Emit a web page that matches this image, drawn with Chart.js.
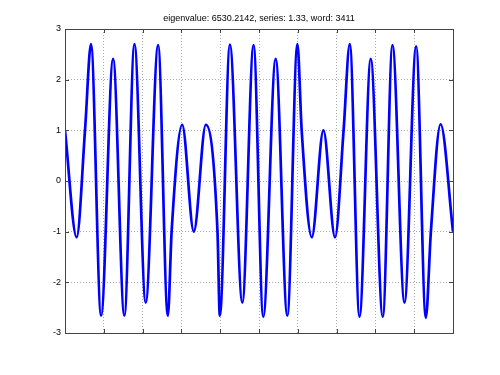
<!DOCTYPE html>
<html>
<head>
<meta charset="utf-8">
<script src="https://cdn.jsdelivr.net/npm/chart.js@4/dist/chart.umd.min.js"></script>
<style>
    body { margin: 0; background: #fff; }
</style>
</head>
<body>
<canvas id="chart" width="500" height="375"></canvas>
<script>
// values (x runs 0..100, grid every 10)
var sampleX = [0, 3.0, 5.2, 6.7, 9.3, 12.4, 15.3, 17.9, 20.8, 24.0, 26.5, 27.5, 30.2, 33.2, 36.3, 39.3, 39.9,
    42.5, 45.7, 48.6, 51.1, 54.3, 57.3, 59.9, 61.0, 63.6, 66.6, 69.6, 71.8, 73.4, 75.9, 78.8, 81.9,
    84.4, 87.5, 90.5, 93.0, 94.3, 96.8, 100];
var sampleY = [1.00, -1.11, 1.05, 2.70, -2.66, 2.41, -2.66, 2.70, -2.40, 2.68, -2.66, -0.97, 1.11, -1.00, 1.11, -1.00, -2.66,
    2.69, -2.40, 2.68, -2.68, 2.41, -2.66, 2.70, 1.00, -1.11, 1.00, -1.11, 1.00, 2.70, -2.68, 2.41, -2.68,
    2.68, -2.40, 2.66, -2.70, -1.00, 1.12, -1.00];
var yTicks = [-3, -2, -1, 0, 1, 2, 3];
var xTicks = [0, 10, 20, 30, 40, 50, 60, 70, 80, 90, 100];
var titleText = 'eigenvalue: 6530.2142, series: 1.33, word: 3411';

var points = [];
for (var i = 0; i < sampleX.length; i++) {
    points.push({x: sampleX[i], y: sampleY[i]});
}

// box round the axes, small inward ticks and the title over the plot
var boxPlugin = {
    id: 'box',
    afterDraw: function (chart) {
        var ctx = chart.ctx;
        var a = chart.chartArea;
        var xs = chart.scales.x;
        var ys = chart.scales.y;
        ctx.save();
        ctx.strokeStyle = '#444';
        ctx.lineWidth = 1;
        ctx.beginPath();
        xTicks.forEach(function (v) {
            var px = Math.round(xs.getPixelForValue(v)) + 0.5;
            ctx.moveTo(px, a.bottom);
            ctx.lineTo(px, a.bottom - 4);
            ctx.moveTo(px, a.top);
            ctx.lineTo(px, a.top + 4);
        });
        yTicks.forEach(function (v) {
            var py = Math.round(ys.getPixelForValue(v)) + 0.5;
            ctx.moveTo(a.left, py);
            ctx.lineTo(a.left + 4, py);
            ctx.moveTo(a.right, py);
            ctx.lineTo(a.right - 4, py);
        });
        ctx.stroke();
        ctx.strokeRect(Math.round(a.left) + 0.5, Math.round(a.top) + 0.5,
            Math.round(a.right - a.left), Math.round(a.bottom - a.top));

        ctx.fillStyle = '#000';
        ctx.font = '9px "Liberation Sans"';
        ctx.textAlign = 'center';
        ctx.textBaseline = 'middle';
        ctx.fillText(titleText, (a.left + a.right) / 2, a.top - 10);
        ctx.restore();
    }
};

var ctx = document.getElementById('chart').getContext('2d');
new Chart(ctx, {
    type: 'line',
    data: {
        datasets: [{
            data: points,
            borderColor: '#0000ff',
            borderWidth: 2.7,
            pointRadius: 0,
            cubicInterpolationMode: 'monotone',
            fill: false
        }]
    },
    options: {
        responsive: false,
        animation: false,
        layout: {padding: {left: 0, right: 47, top: 29, bottom: 0}},
        plugins: {
            legend: {display: false},
            tooltip: {enabled: false},
            title: {display: false}
        },
        scales: {
            x: {
                type: 'linear',
                min: 0,
                max: 100,
                afterBuildTicks: function (scale) {
                    scale.ticks = xTicks.map(function (v) { return {value: v}; });
                },
                afterFit: function (scale) { scale.height = 42; },
                ticks: {display: false},
                grid: {color: '#a8a8a8', drawTicks: false, lineWidth: 1},
                border: {display: false, dash: [1, 2]}
            },
            y: {
                min: -3,
                max: 3,
                afterBuildTicks: function (scale) {
                    scale.ticks = yTicks.map(function (v) { return {value: v}; });
                },
                afterFit: function (scale) { scale.width = 65; },
                ticks: {
                    color: '#000',
                    padding: 4,
                    font: {family: 'Liberation Sans', size: 9}
                },
                grid: {color: '#a8a8a8', drawTicks: false, lineWidth: 1},
                border: {display: false, dash: [1, 2]}
            }
        }
    },
    plugins: [boxPlugin]
});
</script>
</body>
</html>
